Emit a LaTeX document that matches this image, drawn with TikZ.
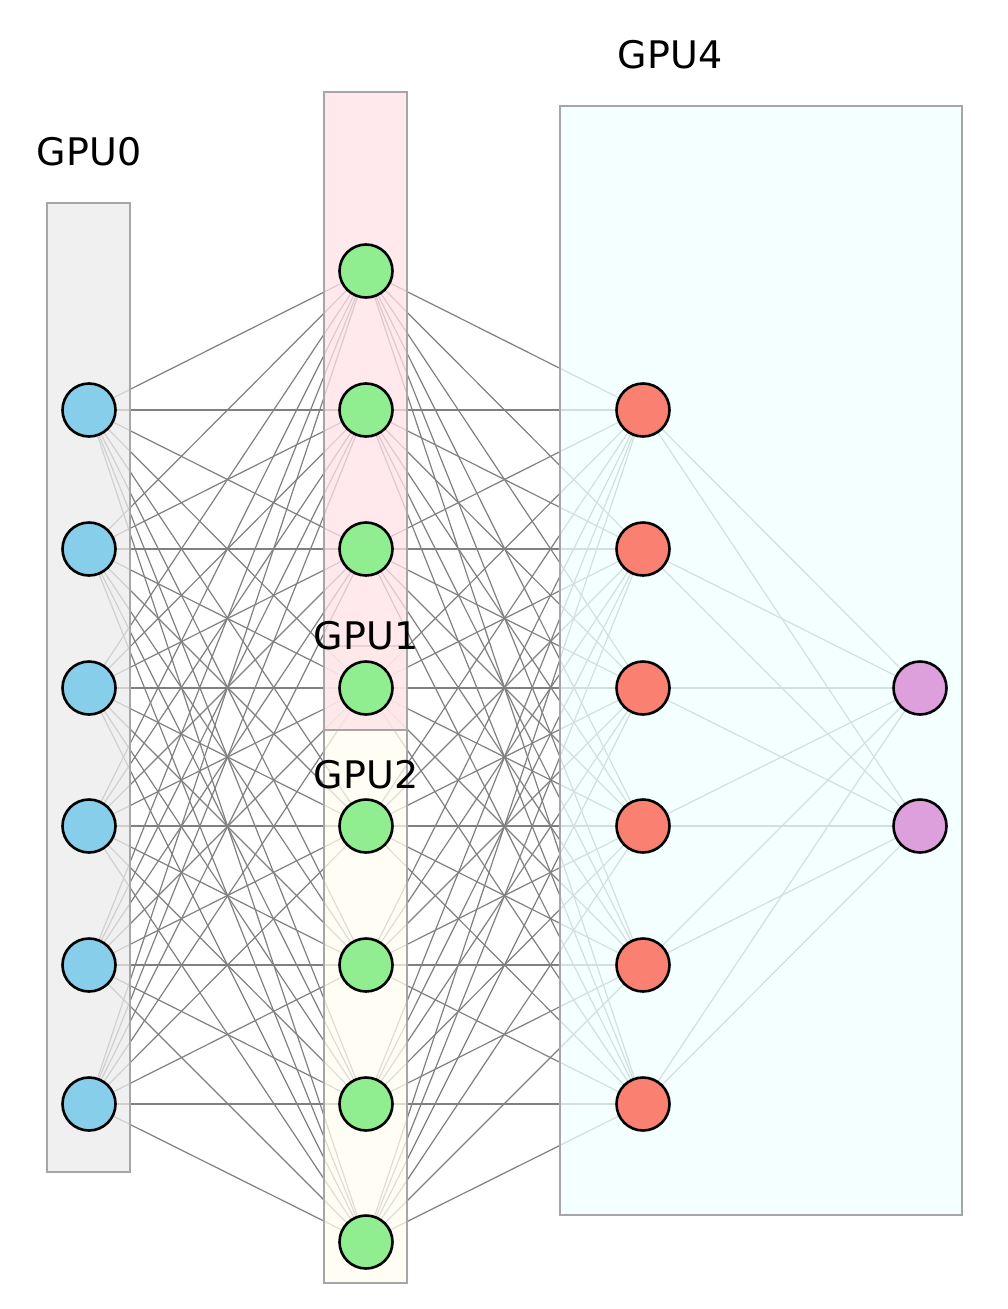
\documentclass[tikz,border=0pt]{standalone}
\usepackage{fontspec}
\setmainfont{DejaVu Sans}
\begin{document}
\begin{tikzpicture}[x=1pt,y=-1pt,
  nd/.style={circle,draw=black,line width=2.6pt,minimum size=53pt,inner sep=0pt},
  ed/.style={draw=black!50,line width=1.2pt},
  box/.style={draw=black!35,line width=2.8pt,fill opacity=0.75},
  lab/.style={font=\fontsize{38}{46}\selectfont,inner sep=0pt}]
\useasboundingbox (0,0) rectangle (1007,1309);
\foreach \i/\y in {1/410,2/549,3/688,4/826,5/965,6/1104}{
  \coordinate (a\i) at (89,\y); \coordinate (c\i) at (643,\y);}
\foreach \i/\y in {1/271,2/410,3/549,4/688,5/826,6/965,7/1104,8/1242}{
  \coordinate (b\i) at (366,\y);}
\coordinate (d1) at (920,688); \coordinate (d2) at (920,826);
\foreach \i in {1,...,6}{\foreach \j in {1,...,8}{\draw[ed] (a\i) -- (b\j);}}
\foreach \i in {1,...,8}{\foreach \j in {1,...,6}{\draw[ed] (b\i) -- (c\j);}}
\foreach \i in {1,...,6}{\foreach \j in {1,2}{\draw[ed] (c\i) -- (d\j);}}
\draw[box,fill={rgb,255:red,235;green,235;blue,235}] (47,203) rectangle (130,1172);
\draw[box,fill={rgb,255:red,255;green,253;blue,240}] (324,646) rectangle (407,1283);
\draw[box,fill={rgb,255:red,255;green,225;blue,230}] (324,92) rectangle (407,730);
\draw[box,fill={rgb,255:red,240;green,255;blue,255}] (560,106) rectangle (962,1215);
\node[lab] (l0) at (89,152) {GPU0};
\node[lab] (l1) at (366,636) {GPU1};
\node[lab] (l2) at (366,775) {GPU2};
\node[lab] (l4) at (670,55) {GPU4};
\foreach \i in {1,...,6}{
  \node[nd,fill={rgb,255:red,135;green,206;blue,235}] (A\i) at (a\i) {};
  \node[nd,fill={rgb,255:red,250;green,128;blue,114}] (C\i) at (c\i) {};}
\foreach \i in {1,...,8}{\node[nd,fill={rgb,255:red,144;green,238;blue,144}] (B\i) at (b\i) {};}
\foreach \i in {1,2}{\node[nd,fill={rgb,255:red,221;green,160;blue,221}] (D\i) at (d\i) {};}
\end{tikzpicture}
\end{document}
